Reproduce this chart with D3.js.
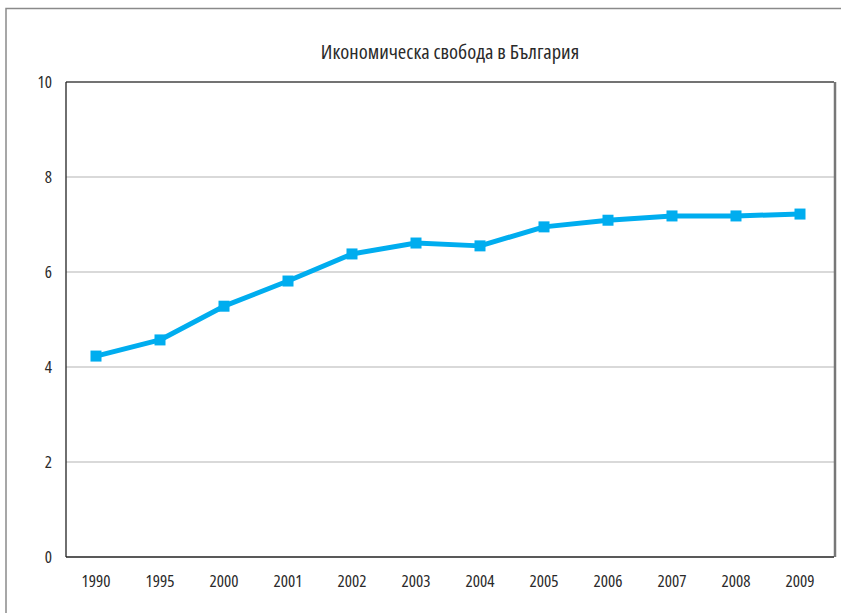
<!DOCTYPE html>
<html>
<head>
<meta charset="utf-8">
<script src="https://cdn.jsdelivr.net/npm/d3@7"></script>
<style>
  body { margin: 0; background: #fff; }
  svg text { font-family: "Open Sans", sans-serif; font-stretch: 75%; fill: #2a2a2a; }
</style>
</head>
<body>
<svg id="chart" width="841" height="613"></svg>
<script>
const title = 'Икономическа свобода в България';
const years = ['1990', '1995', '2000', '2001', '2002', '2003', '2004', '2005', '2006', '2007', '2008', '2009'];
const scores = [4.23, 4.57, 5.28, 5.81, 6.38, 6.61, 6.55, 6.95, 7.09, 7.18, 7.18, 7.22];
const yTicks = [0, 2, 4, 6, 8, 10];

const svg = d3.select('#chart');
const margin = { top: 82, right: 7, bottom: 56, left: 66 };
const width = 841 - margin.left - margin.right;
const height = 613 - margin.top - margin.bottom;

// outer frame, open on the right and bottom
svg.append('path')
    .attr('d', 'M6,613 V8.5 H841')
    .attr('fill', 'none')
    .attr('stroke', '#8a8a8a')
    .attr('stroke-width', 1.5);

svg.append('text')
    .attr('x', margin.left + width / 2)
    .attr('y', 59)
    .attr('text-anchor', 'middle')
    .attr('font-size', '20.5px')
    .text(title);

const g = svg.append('g').attr('transform', `translate(${margin.left},${margin.top})`);

const x = d3.scaleBand().domain(years).range([0, width]);
const y = d3.scaleLinear().domain([0, 10]).range([height, 0]);

// gridlines
g.selectAll('.grid')
    .data(yTicks.filter((d) => d > 0 && d < 10))
    .join('line')
    .attr('x1', 0)
    .attr('x2', width)
    .attr('y1', (d) => y(d))
    .attr('y2', (d) => y(d))
    .attr('stroke', '#b4b4b4')
    .attr('stroke-width', 1.2);

// plot frame
g.append('line').attr('x1', 0).attr('x2', width).attr('y1', 0).attr('y2', 0)
    .attr('stroke', '#444').attr('stroke-width', 1.3);
g.append('line').attr('x1', width + 1).attr('x2', width + 1).attr('y1', 0).attr('y2', height)
    .attr('stroke', '#777').attr('stroke-width', 2.5);
g.append('line').attr('x1', 0).attr('x2', 0).attr('y1', 0).attr('y2', height)
    .attr('stroke', '#222').attr('stroke-width', 1.3);
g.append('line').attr('x1', 0).attr('x2', width).attr('y1', height).attr('y2', height)
    .attr('stroke', '#222').attr('stroke-width', 1.3);

// y labels
g.selectAll('.ylab')
    .data(yTicks)
    .join('text')
    .attr('x', -14)
    .attr('y', (d) => y(d))
    .attr('dy', '0.38em')
    .attr('text-anchor', 'end')
    .attr('font-size', '17px')
    .text((d) => d);

// x labels
g.selectAll('.xlab')
    .data(years)
    .join('text')
    .attr('x', (d) => x(d) + x.bandwidth() / 2 - 2)
    .attr('y', height + 30)
    .attr('text-anchor', 'middle')
    .attr('font-size', '17px')
    .text((d) => d);

const pts = years.map((d, i) => ({ year: d, value: scores[i] }));

g.append('path')
    .datum(pts)
    .attr('fill', 'none')
    .attr('stroke', '#00adef')
    .attr('stroke-width', 5)
    .attr('stroke-linejoin', 'round')
    .attr('d', d3.line().x((d) => x(d.year) + x.bandwidth() / 2 - 2).y((d) => y(d.value)));

const size = 11;
g.selectAll('.marker')
    .data(pts)
    .join('rect')
    .attr('x', (d) => x(d.year) + x.bandwidth() / 2 - 2 - size / 2)
    .attr('y', (d) => y(d.value) - size / 2)
    .attr('width', size)
    .attr('height', size)
    .attr('fill', '#00adef');
</script>
</body>
</html>
